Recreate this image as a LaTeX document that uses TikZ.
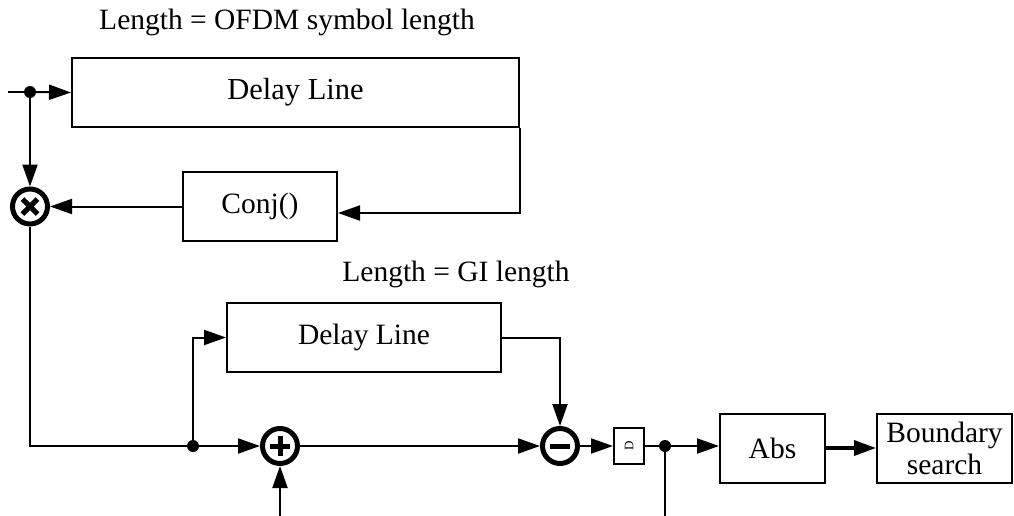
\documentclass[tikz,border=0pt]{standalone}
\usepackage{fontspec}
\setmainfont{Liberation Serif}
\usetikzlibrary{arrows.meta}
\begin{document}
\begin{tikzpicture}[x=1pt,y=-1pt,
  blk/.style={draw,line width=2pt,inner sep=0pt,font=\fontsize{29.5}{33}\selectfont,align=center},
  op/.style={draw,circle,line width=5pt,minimum size=35pt,inner sep=0pt},
  junc/.style={circle,fill,inner sep=0pt,minimum size=12pt},
  wire/.style={line width=2pt},
  arr/.style={wire,-{Triangle[length=22pt,width=15pt]}},
  lbl/.style={font=\fontsize{29.5}{33}\selectfont}]
\useasboundingbox (0,0) rectangle (1014,516);
% labels
\node[lbl] (l1) at (287,22) {Length = OFDM symbol length};
\node[lbl] (l2) at (456,274) {Length = GI length};
% blocks
\node[blk,minimum width=447pt,minimum height=69pt,font=\fontsize{30.5}{34}\selectfont] (dl1) at (295.5,92.5) {Delay Line};
\node[blk,minimum width=154pt,minimum height=69pt] (conj) at (260,206.5) {Conj()};
\node[blk,minimum width=274pt,minimum height=69pt] (dl2) at (364,337.5) {Delay Line};
\node[blk,minimum width=30pt,minimum height=36pt] (dbox) at (629,446) {\rotatebox{90}{\fontsize{13}{13}\selectfont D}};
\node[blk,minimum width=105pt,minimum height=69pt] (abs) at (772.5,448) {Abs};
\node[blk,minimum width=135pt,minimum height=69pt,font=\fontsize{29.5}{32}\selectfont] (bs) at (944.5,448) {Boundary\\search};
% operators
\node[op] (mult) at (30,206.5) {};
\draw[line width=5pt] ([shift={(-7.5pt,-7.5pt)}]mult.center) -- ([shift={(7.5pt,7.5pt)}]mult.center)
      ([shift={(-7.5pt,7.5pt)}]mult.center) -- ([shift={(7.5pt,-7.5pt)}]mult.center);
\node[op] (plus) at (280,446) {};
\draw[line width=5pt] ([xshift=-10pt]plus.center) -- ([xshift=10pt]plus.center)
      ([yshift=-10pt]plus.center) -- ([yshift=10pt]plus.center);
\node[op] (minus) at (560,446) {};
\draw[line width=5pt] ([xshift=-10pt]minus.center) -- ([xshift=10pt]minus.center);
% junctions
\node[junc] (j1) at (30,92) {};
\node[junc] (j2) at (193,446) {};
\node[junc] (j3) at (665,446) {};
\coordinate (in) at (8,92);
\coordinate (pin) at (280,516);
\coordinate (out) at (665,516);
% connectors
\draw[wire] (in) -- (j1);
\draw[arr] (j1) -- (dl1.west);
\draw[arr] (j1) -- (mult.north);
\draw[arr] (dl1.south east) |- ([yshift=-6.5pt]conj.east);
\draw[arr] (conj.west) -- (mult.east);
\draw[wire] (mult.south) |- (j2);
\draw[arr] (j2) -- (plus.west);
\draw[arr] (j2) |- (dl2.west);
\draw[arr] (dl2.east) -| (minus.north);
\draw[arr] (pin) -- (plus.south);
\draw[arr] (plus.east) -- (minus.west);
\draw[arr] (minus.east) -- (dbox.west);
\draw[wire] (dbox.east) -- (j3);
\draw[arr] (j3) -- (j3 -| abs.west);
\draw[wire] (j3) -- (out);
\draw[wire,line width=3.5pt,-{Triangle[length=22pt,width=15pt]}] (abs.east) -- (bs.west);
\end{tikzpicture}
\end{document}
